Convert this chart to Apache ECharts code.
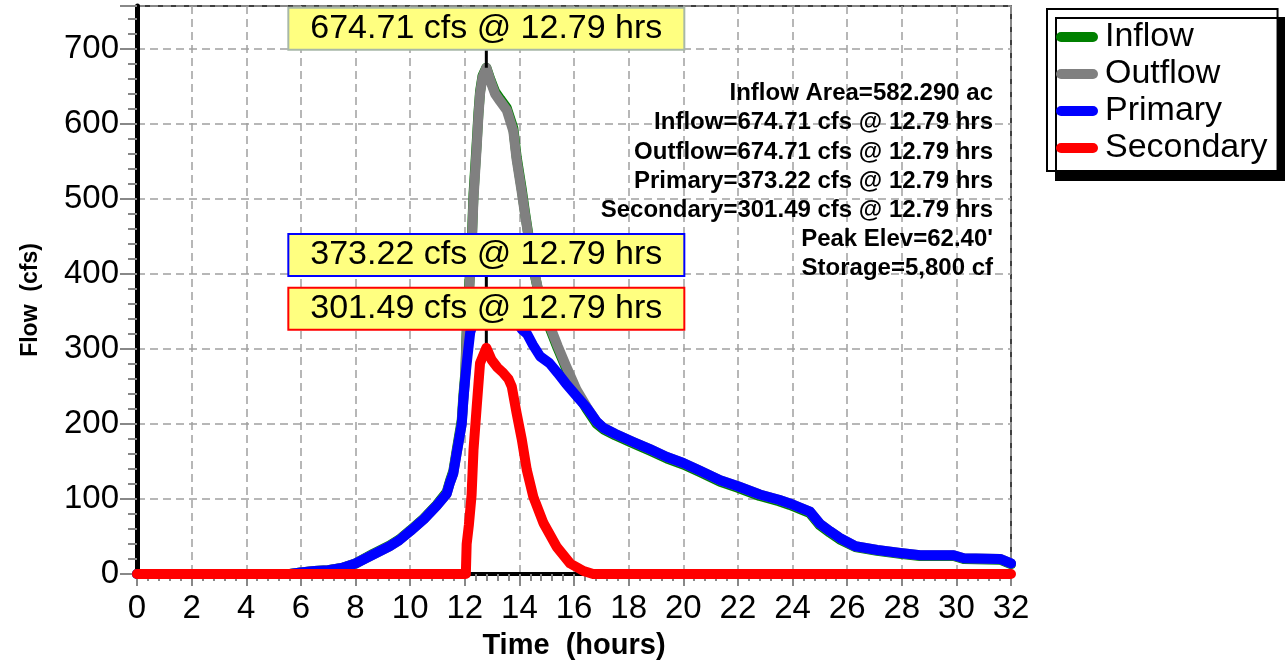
<!DOCTYPE html>
<html>
<head>
<meta charset="utf-8">
<script src="https://cdn.jsdelivr.net/npm/echarts@6/dist/echarts.min.js"></script>
<style>
html,body{margin:0;padding:0;background:#fff;}
#chart{width:1285px;height:662px;}
</style>
</head>
<body>
<div id="chart"></div>
<script>
// ---- data (hours, cfs) ----
const seriesNames = ['Inflow', 'Outflow', 'Primary', 'Secondary'];
const seriesColors = ['#008000', '#808080', '#0000ff', '#ff0000'];

const inflow = [
  [0,0],[5.6,0],[6.0,2],[6.5,4],[7.0,5],[7.5,8],[8.0,14],[8.65,27],[9.25,38],[9.6,46],[10.0,58],
  [10.5,74],[10.97,92],[11.34,109],[11.46,124],[11.58,137],[11.7,164],[11.89,205],[11.95,238],
  [12.02,268],[12.07,324],[12.15,376],[12.25,438],[12.32,506],[12.44,576],[12.5,614],[12.56,643],
  [12.65,664],[12.79,674.71],[12.95,658],[13.11,643],[13.3,633],[13.54,621],[13.78,594],[13.9,556],
  [14.09,512],[14.21,481],[14.33,452],[14.5,410],[14.8,358],[15.1,329],[15.4,301],[15.7,275],
  [16.1,242],[16.46,220],[16.83,200],[17.07,193],[17.5,185],[18.17,174],[18.8,164],[19.4,154],
  [20.0,146],[20.6,136],[21.35,123],[22.0,115],[22.8,104],[23.5,97],[23.9,92],[24.3,86],[24.64,81],
  [25.0,65],[25.37,55],[25.73,46],[26.3,36],[27.1,31],[27.94,27],[28.67,24],[29.9,24],[30.27,20],
  [31.6,19],[32,13]
];

const outflow = [
  [0,0],[5.6,0],[6.0,2],[6.5,4],[7.0,5],[7.5,8],[8.0,14],[8.65,26],[9.25,37],[9.6,45],[10.0,57],
  [10.5,73],[10.97,91],[11.34,107],[11.46,122],[11.58,134],[11.7,160],[11.89,200],[11.95,232],
  [12.02,262],[12.07,318],[12.15,370],[12.25,432],[12.32,500],[12.44,570],[12.5,610],[12.56,640],
  [12.65,662],[12.79,674.71],[12.95,656],[13.11,640],[13.3,630],[13.54,618],[13.78,590],[13.9,552],
  [14.09,508],[14.21,478],[14.33,450],[14.5,410],[14.8,360],[15.1,332],[15.4,304],[15.7,278],
  [16.1,245],[16.46,223],[16.83,203],[17.07,195],[17.5,187],[18.17,176],[18.8,166],[19.4,156],
  [20.0,148],[20.6,138],[21.35,125],[22.0,117],[22.8,106],[23.5,99],[23.9,94],[24.3,88],[24.64,83],
  [25.0,67],[25.37,57],[25.73,48],[26.3,37],[27.1,32],[27.94,28],[28.67,25],[29.9,25],[30.27,21],
  [31.6,20],[32,14]
];

const primary = [
  [0,0],[5.6,0],[6.0,2],[6.5,4],[7.0,5],[7.5,8],[8.0,14],[8.65,26],[9.25,37],[9.6,45],[10.0,57],
  [10.5,73],[10.97,91],[11.34,107],[11.46,122],[11.58,134],[11.7,160],[11.89,200],[11.95,232],
  [12.02,262],[12.1,290],[12.2,322],[12.32,335],[12.44,345],[12.56,355],[12.79,373.22],[12.95,368],
  [13.11,364],[13.54,347],[13.78,340],[13.9,336],[14.09,326],[14.28,320],[14.5,305],[14.76,290],
  [15.1,281],[15.4,268],[15.7,254],[16.1,237],[16.46,222],[16.83,203],[17.07,195],[17.5,187],
  [18.17,176],[18.8,166],[19.4,156],[20.0,148],[20.6,138],[21.35,125],[22.0,117],[22.8,106],
  [23.5,99],[23.9,94],[24.3,88],[24.64,83],[25.0,67],[25.37,57],[25.73,48],[26.3,37],[27.1,32],
  [27.94,28],[28.67,25],[29.9,25],[30.27,21],[31.6,20],[32,14]
];

const secondary = [
  [0,0],[12.04,0],[12.07,40],[12.15,65],[12.25,105],[12.32,165],[12.44,224],[12.56,281],
  [12.79,301.49],[12.99,285],[13.2,275],[13.41,268],[13.6,260],[13.72,250],[13.9,214],[14.09,179],
  [14.27,139],[14.51,103],[14.88,68],[15.37,36],[15.86,14],[16.35,4],[16.7,0],[32,0]
];

const peakTime = 12.79;
const peakLabels = ['674.71 cfs @ 12.79 hrs', '373.22 cfs @ 12.79 hrs', '301.49 cfs @ 12.79 hrs'];
const peakValues = [674.71, 373.22, 301.49];
const peakBorders = ['#a8b8a8', '#0000ff', '#ff0000'];

const infoLines = [
  'Inflow Area=582.290 ac',
  'Inflow=674.71 cfs @ 12.79 hrs',
  'Outflow=674.71 cfs @ 12.79 hrs',
  'Primary=373.22 cfs @ 12.79 hrs',
  'Secondary=301.49 cfs @ 12.79 hrs',
  'Peak Elev=62.40\'',
  'Storage=5,800 cf'
];

const xTicks = {min: 0, max: 32, interval: 2};
const yTicks = {min: 0, max: 757, interval: 100};

// ---- chart ----
const FONT = 'Liberation Sans, Arial, Helvetica, sans-serif';
const chart = echarts.init(document.getElementById('chart'), null, {renderer: 'canvas'});

function peakMark(i) {
  return {
    silent: true,
    animation: false,
    data: [{
      coord: [peakTime, peakValues[i]],
      symbol: 'rect',
      symbolSize: [3, 22],
      symbolOffset: [0, -11],
      itemStyle: {color: '#000'},
      label: {
        show: true,
        position: 'top',
        distance: 0,
        offset: [0, -17],
        formatter: peakLabels[i],
        fontFamily: FONT,
        fontSize: 34,
        color: '#000',
        backgroundColor: '#ffff80',
        borderColor: peakBorders[i],
        borderWidth: 2,
        width: 394,
        height: 40,
        lineHeight: 40,
        align: 'center',
        verticalAlign: 'middle',
        padding: 0
      }
    }]
  };
}

const dataSets = [inflow, outflow, primary, secondary];
const markIndex = {1: 0, 2: 1, 3: 2};

const series = dataSets.map((d, i) => {
  const s = {
    name: seriesNames[i],
    type: 'line',
    data: d,
    symbol: 'none',
    z: 2 + i,
    animation: false,
    lineStyle: {color: seriesColors[i], width: 10, cap: 'round', join: 'round'},
    itemStyle: {color: seriesColors[i]}
  };
  if (markIndex[i] !== undefined) s.markPoint = peakMark(markIndex[i]);
  return s;
});

const pill = 'path://M5,0 L37,0 A5,5 0 0 1 37,10 L5,10 A5,5 0 0 1 5,0 Z';

chart.setOption({
  animation: false,
  backgroundColor: '#fff',
  grid: {
    left: 137, right: 274, top: 6, bottom: 88,
    outerBoundsMode: 'none',
    containLabel: false,
    show: true, borderColor: '#000', borderWidth: 1.5, backgroundColor: 'transparent'
  },
  legend: {
    data: seriesNames.map((n, i) => ({name: n, icon: pill, itemStyle: {color: seriesColors[i]}})),
    orient: 'vertical',
    left: 1047, top: 9,
    itemWidth: 42, itemHeight: 10, itemGap: 3,
    padding: [11, 10, 6, 9],
    backgroundColor: '#fff',
    borderColor: '#000', borderWidth: 2,
    shadowColor: '#000', shadowOffsetX: 9, shadowOffsetY: 9, shadowBlur: 0,
    textStyle: {fontFamily: FONT, fontSize: 34, color: '#000', padding: [0, 0, 0, 2]},
    selectedMode: false
  },
  xAxis: {
    type: 'value', min: xTicks.min, max: xTicks.max, interval: xTicks.interval,
    name: 'Time  (hours)', nameLocation: 'middle', nameGap: 57,
    nameTextStyle: {fontFamily: FONT, fontSize: 29, fontWeight: 'bold', color: '#000'},
    axisLine: {show: true, lineStyle: {color: '#000', width: 4}},
    axisTick: {show: true, length: 12, lineStyle: {color: '#888', width: 2}},
    minorTick: {show: true, splitNumber: 5, length: 7, lineStyle: {color: '#888', width: 2}},
    axisLabel: {fontFamily: FONT, fontSize: 33, color: '#000', margin: 18},
    splitLine: {show: true, lineStyle: {color: '#a0a0a0', width: 1.5, type: [8, 5]}}
  },
  yAxis: {
    type: 'value', min: yTicks.min, max: yTicks.max, interval: yTicks.interval,
    name: 'Flow  (cfs)', nameLocation: 'middle', nameGap: 95,
    nameTextStyle: {fontFamily: FONT, fontSize: 23, fontWeight: 'bold', color: '#000', padding: [0, 20, 0, 0]},
    axisLine: {show: true, lineStyle: {color: '#000', width: 5}},
    axisTick: {show: true, length: 17, lineStyle: {color: '#888', width: 2}},
    minorTick: {show: true, splitNumber: 5, length: 9, lineStyle: {color: '#888', width: 2}},
    axisLabel: {
      fontFamily: FONT, fontSize: 33, color: '#000', margin: 18,
      formatter: v => (v % 100 === 0 ? String(v) : '')
    },
    splitLine: {show: true, lineStyle: {color: '#a0a0a0', width: 1.5, type: [8, 5]}}
  },
  graphic: [{
    type: 'text',
    right: 292,
    top: 79,
    z: 50,
    style: {
      text: infoLines.join('\n'),
      fontFamily: FONT,
      fontSize: 24,
      fontWeight: 'bold',
      lineHeight: 29.2,
      fill: '#000',
      textAlign: 'right'
    }
  }],
  series: series
});
</script>
</body>
</html>
